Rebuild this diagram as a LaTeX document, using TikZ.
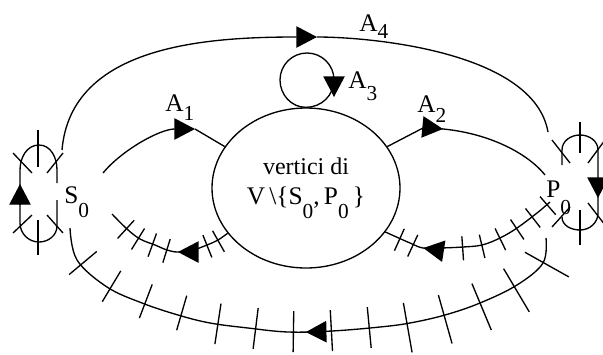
\documentclass[tikz,border=0pt]{standalone}
\usepackage{fontspec}
\setmainfont{Liberation Serif}
\usetikzlibrary{shapes.geometric,arrows.meta,decorations.markings}
\newcommand\sbs[2]{\raisebox{-#1}{\fontsize{16}{16}\selectfont #2}}
\begin{document}
\begin{tikzpicture}[x=0.75pt,y=-0.75pt,
  ln/.style={line width=1pt},
  tip/.style={-{Triangle[length=15.5pt,width=16pt]}},
  arrowat/.style={postaction={decorate,decoration={markings,mark=at position #1 with {\arrow{Triangle[length=15.5pt,width=16pt]}}}}},
  hatch/.style n args={5}{postaction={decorate,decoration={markings,mark=between positions #1 and #2 step #3 with {\draw[ln] (0pt,-#4) -- (0pt,#5);}}}},
  lab/.style={anchor=base west,inner sep=0pt,font=\fontsize{19}{19}\selectfont},
]
\useasboundingbox (0,0) rectangle (603,354);

% central set of vertices
\node[draw,ln,ellipse,minimum width=141pt,minimum height=120pt,inner sep=0pt,align=center,
      font=\fontsize{18}{22.5}\selectfont] (V) at (306,188)
  {vertici di\\\fontsize{19}{22.5}\selectfont V\,\textbackslash\{S\sbs{10.5pt}{0},\,P\sbs{10.5pt}{0}\,\}};

% labels
\node[lab] (A4) at (359,31) {A\sbs{5.5pt}{4}};
\node[lab] (A1) at (165,111) {A\sbs{7pt}{1}};
\node[lab] (A2) at (417,112) {A\sbs{7.5pt}{2}};
\node[lab] (A3) at (348,88) {A\sbs{9pt}{3}};
\node[lab] (S0) at (64,203) {S\sbs{10.5pt}{0}};
\node[lab] (P0) at (546,197) {P\sbs{13pt}{0}};

% connector end points
\coordinate (s4) at (62,150);
\coordinate (t4) at (317,37);
\coordinate (p4) at (548,132);
\coordinate (a1s) at (103,173);
\coordinate (a1m) at (195,129);
\coordinate (a2b) at (423,128);
\coordinate (a2e) at (545,175);
\coordinate (ls) at (112,214);
\coordinate (rp) at (550,202);
\coordinate (bp) at (546,238);
\coordinate (bs) at (70,228);
\coordinate (ll) at (280,80);
\coordinate (lt) at (307,53);
\coordinate (lr) at (334,80);
\coordinate (lq) at (334,97);

% A4
\draw[ln,tip] (s4) .. controls +(9,-105) and +(-110,0) .. (t4);
\draw[ln] (t4) .. controls +(55,0) and +(-14,-80) .. (p4);

% A1
\draw[ln,tip] (a1s) .. controls (122,150) and (160,129) .. (a1m);
\draw[ln] (a1m) -- (V.153);

% A2
\draw[ln] (V.27) -- (a2b);
\draw[ln,arrowat=15pt] (a2b) .. controls +(55,0) and +(-20,-25) .. (a2e);

% A3 loop
\draw[ln] (V.north) to[out=180,in=-90] (ll) to[out=90,in=180] (lt)
  to[out=0,in=90] (lr) to[out=-90,in=0] (V.north);
\draw[ln,tip] (lr) -- (lq);

% lower left hatched arc (towards S0)
\draw[ln,arrowat=40.5pt,hatch={9pt}{18.1pt}{9pt}{8pt}{10pt},hatch={49pt}{84pt}{11.5pt}{8.5pt}{10pt}]
  plot[smooth,tension=0.6] coordinates {(V.210) (218,240) (207,245) (193,250) (178,252) (167,250) (155,245) (140,239) (127,229) (ls)};

% lower right hatched arc (from P0)
\draw[ln,arrowat=105pt,hatch={3pt}{76pt}{14.5pt}{8pt}{10pt},hatch={113pt}{125pt}{11pt}{8pt}{10pt}]
  plot[smooth,tension=0.6] coordinates {(rp) (537,213) (517,228) (500,238) (482,245) (463,247) (440,248) (423,248) (410,243) (V.-29)};

% bottom hatched arc (P0 to S0)
\draw[ln,arrowat=209pt,
      hatch={18.75pt}{140pt}{28.5pt}{15.75pt}{22pt},
      hatch={161.25pt}{280pt}{28.5pt}{15.75pt}{15pt},
      hatch={303.75pt}{400pt}{28.5pt}{15.75pt}{11.25pt}]
  plot[smooth,tension=0.6] coordinates {(bp) (543,263) (517,285) (480,303) (445,315) (410,323) (380,327) (332,331) (288,332) (248,328) (210,323) (178,315) (142,303) (107,287) (77,260) (bs)};

% S0 region
\draw[ln] (57,183) -- (57,170) to[out=90,in=0] (39,145) to[out=180,in=90] (20,170) -- (20,223)
  to[out=-90,in=180] (39,242) to[out=0,in=-90] (57,226) -- (57,200);
\draw[ln,tip] (20,205) -- (20,184);
\draw[ln] (13,153) -- (32,173);
\draw[ln] (63,153) -- (47,173);
\draw[ln] (38,130) -- (38,167);
\draw[ln] (13,233) -- (32,215);
\draw[ln] (47,215) -- (63,233);
\draw[ln] (38,220) -- (38,255);

% P0 region
\draw[ln] (562,165) -- (562,150) to[out=90,in=180] (580,135) to[out=0,in=90] (598,150) -- (598,213)
  to[out=-90,in=0] (580,230) to[out=180,in=-90] (562,217);
\draw[ln,tip] (598,178) -- (598,198);
\draw[ln] (552,140) -- (570,163);
\draw[ln] (605,140) -- (588,163);
\draw[ln] (580,122) -- (580,153);
\draw[ln] (552,227) -- (570,207);
\draw[ln] (588,203) -- (605,225);
\draw[ln] (580,210) -- (580,245);
\end{tikzpicture}
\end{document}
